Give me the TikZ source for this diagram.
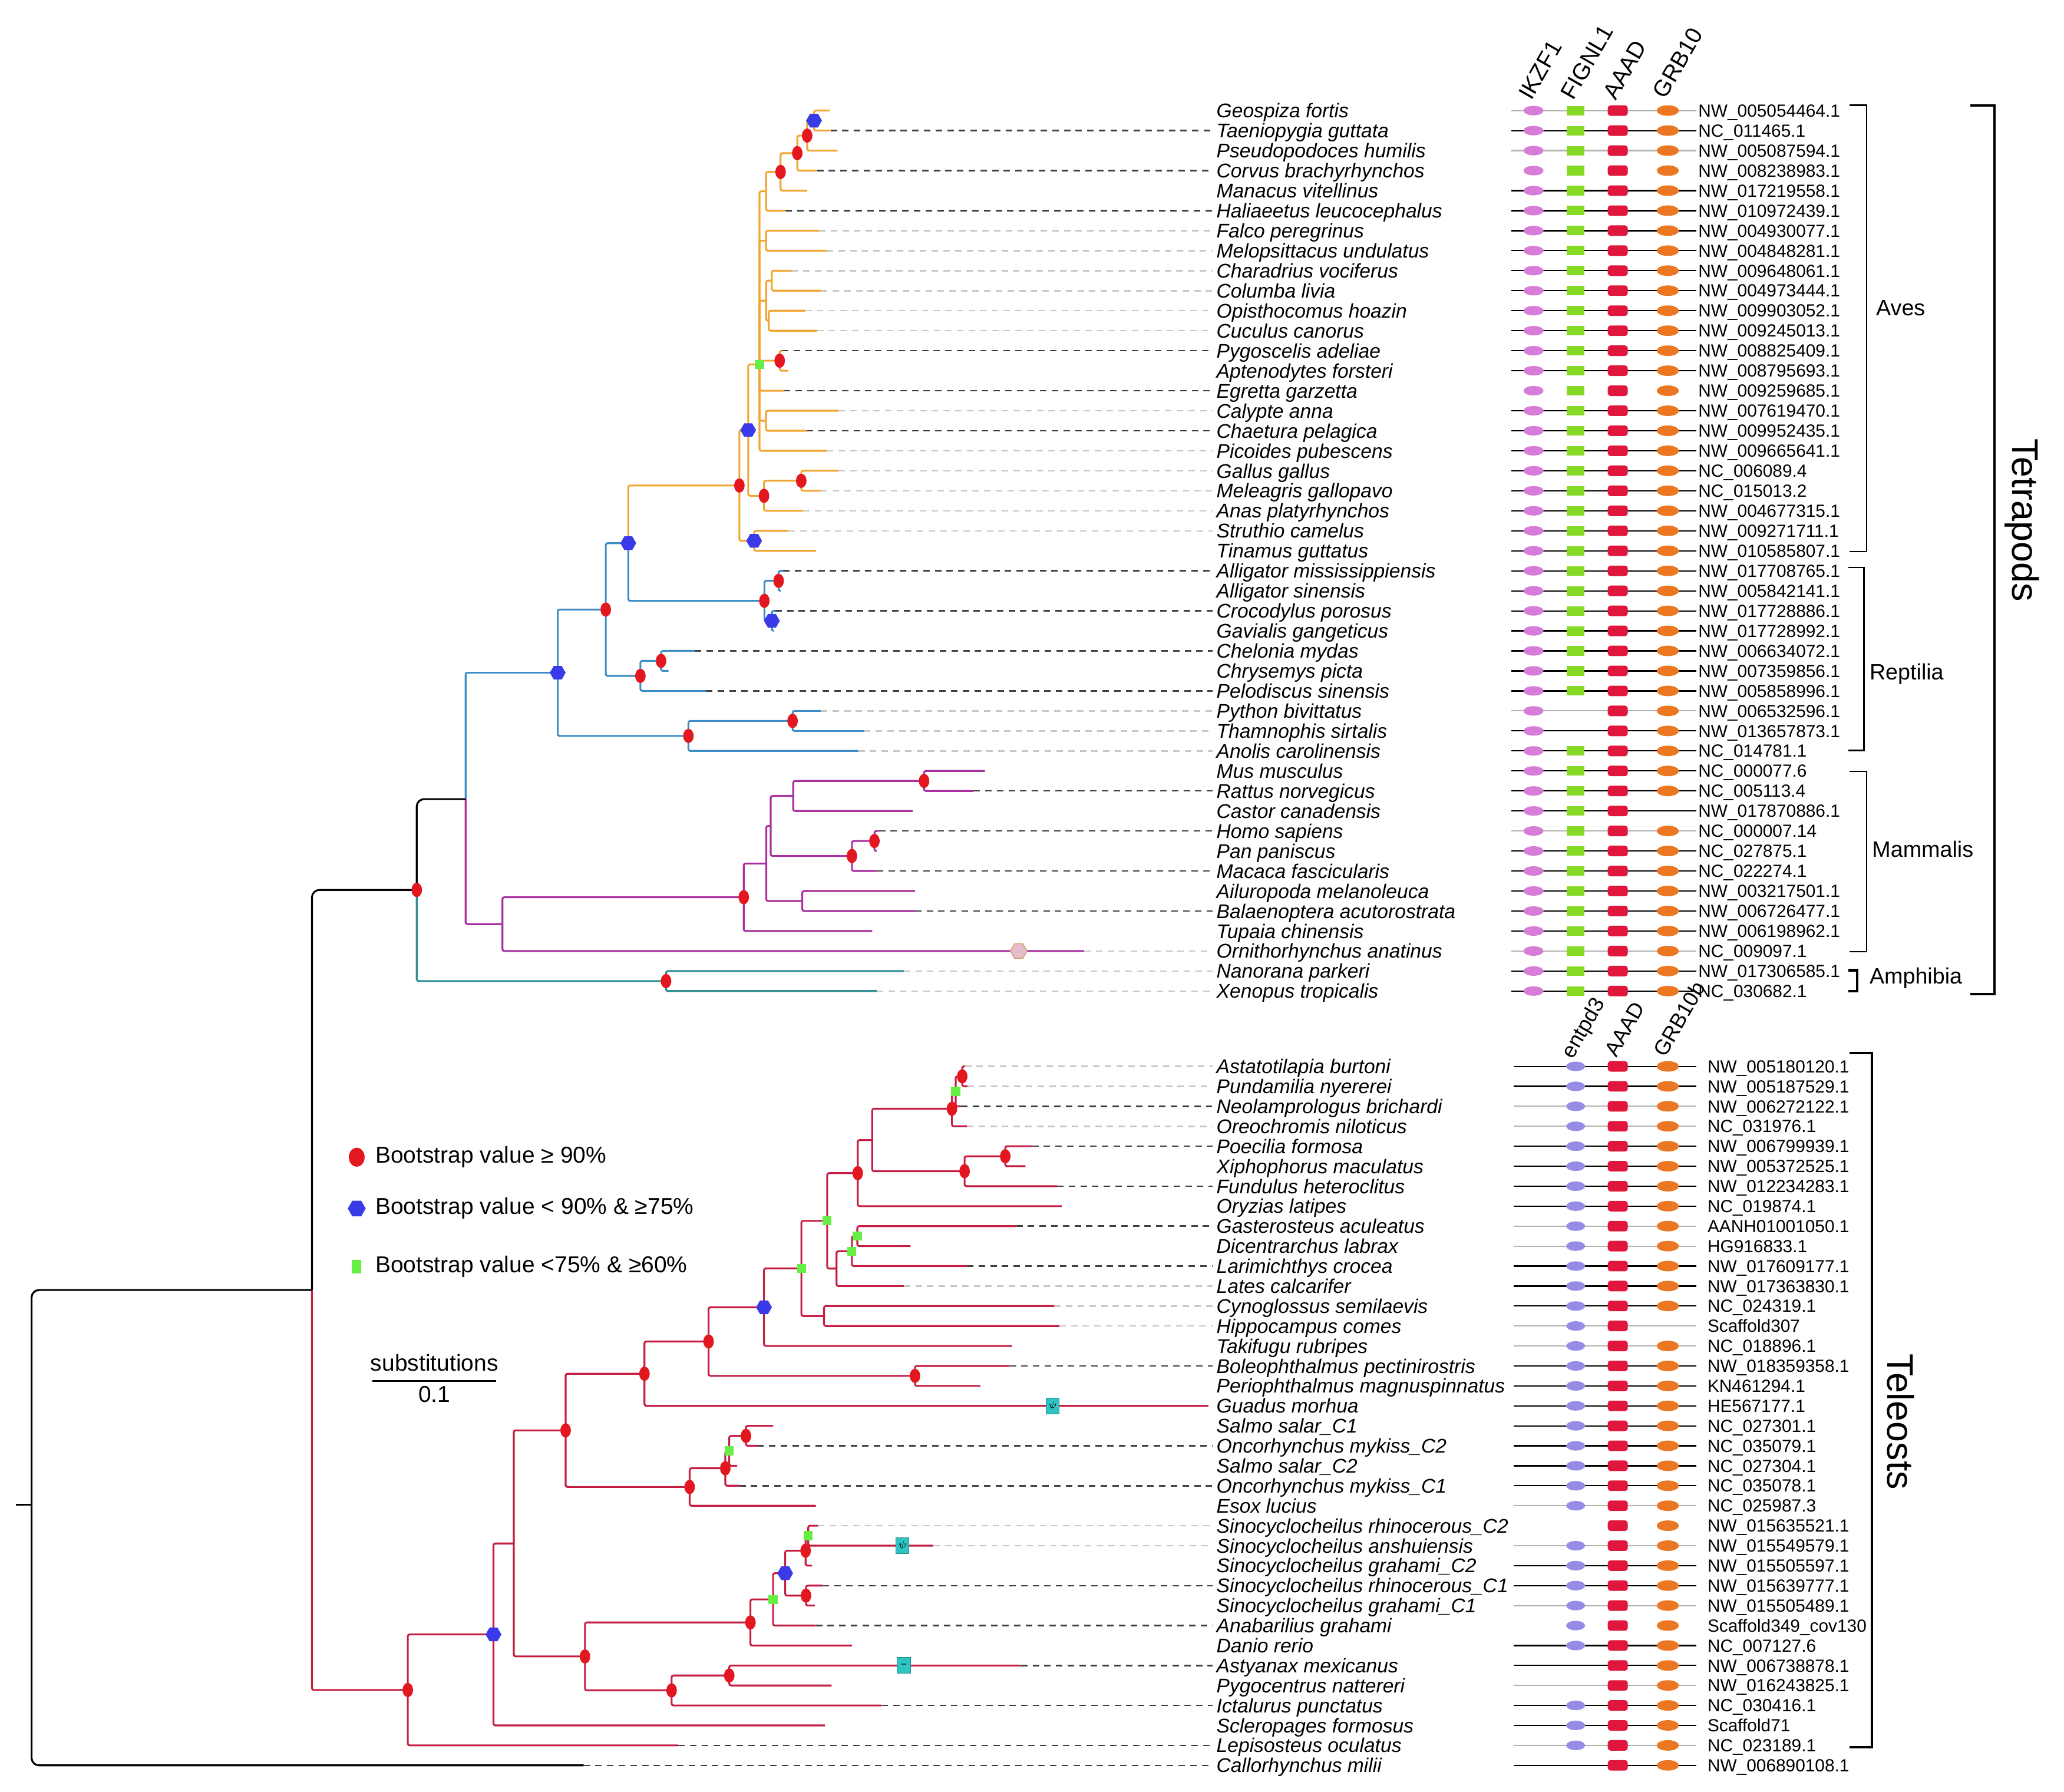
\documentclass[tikz,border=0pt]{standalone}
\usepackage{fontspec}
\setmainfont{Liberation Sans}
\usetikzlibrary{shapes.geometric}
\definecolor{avesor}{HTML}{F2A531}
\definecolor{reptbl}{HTML}{3C8DC4}
\definecolor{mammag}{HTML}{A8309F}
\definecolor{amphtl}{HTML}{2E8E93}
\definecolor{telred}{HTML}{C41F43}
\definecolor{bsr}{HTML}{E3171F}
\definecolor{bsb}{HTML}{3A3AE8}
\definecolor{bsg}{HTML}{66EE44}
\definecolor{ikz}{HTML}{D77CD7}
\definecolor{fig}{HTML}{86D925}
\definecolor{aad}{HTML}{E0163C}
\definecolor{grb}{HTML}{EC7722}
\definecolor{ent}{HTML}{968CE6}
\definecolor{psi}{HTML}{2EC4C4}
\definecolor{orn}{HTML}{E6BCC6}

\begin{document}
\begin{tikzpicture}
    [
    x=0.025cm, y=-0.025cm,
    br/.style={line width=1pt, rounded corners=1pt},
    root/.style={br, black, rounded corners=4pt},
    aves/.style={br, avesor},
    rept/.style={br, reptbl},
    mamm/.style={br, mammag},
    amph/.style={br, amphtl},
    tele/.style={br, telred},
    lead/.style={dash pattern=on 3.5pt off 2.8pt, line width=0.8pt, black!75, shorten >=1pt},
    leadlt/.style={dash pattern=on 3.5pt off 2.8pt, line width=0.8pt, black!22, shorten >=1pt},
    bsred/.style={ellipse, fill=bsr, inner sep=0pt, minimum width=0.2cm, minimum height=0.27cm},
    bsblue/.style={regular polygon, regular polygon sides=6, fill=bsb, inner sep=0pt, minimum size=0.3cm},
    bsgreen/.style={rectangle, fill=bsg, inner sep=0pt, minimum size=0.17cm},
    sp/.style={anchor=west, inner xsep=1pt, inner ysep=0pt, text height=7.7pt, text depth=0pt, font=\fontsize{10.7}{12}\selectfont\itshape},
    acc/.style={anchor=west, inner xsep=1pt, inner ysep=0pt, text height=6.8pt, text depth=0pt, font=\fontsize{9.5}{11}\selectfont},
    gline/.style={line width=0.7pt, black},
    glinelt/.style={line width=0.7pt, black!30},
    ikzf/.style={ellipse, fill=ikz, inner sep=0pt, minimum width=0.38cm, minimum height=0.18cm},
    fignl/.style={rectangle, fill=fig, inner sep=0pt, minimum width=0.33cm, minimum height=0.18cm},
    aaad/.style={rectangle, rounded corners=1.5pt, fill=aad, inner sep=0pt, minimum width=0.38cm, minimum height=0.2cm},
    grbten/.style={ellipse, fill=grb, inner sep=0pt, minimum width=0.42cm, minimum height=0.2cm},
    entpd/.style={ellipse, fill=ent, inner sep=0pt, minimum width=0.36cm, minimum height=0.18cm},
    gene/.style={rotate=60, anchor=west, inner sep=0pt, font=\fontsize{12.5}{14}\selectfont},
    tgene/.style={gene, font=\fontsize{11.5}{13}\selectfont},
    grp/.style={anchor=west, inner sep=0pt, font=\fontsize{12}{14}\selectfont},
    clade/.style={rotate=-90, inner sep=0pt, font=\fontsize{20}{24}\selectfont},
    brk/.style={line width=0.8pt},
    bigbrk/.style={line width=1.3pt},
    lgtext/.style={anchor=west, inner sep=0pt, font=\fontsize{12.4}{14}\selectfont},
    psibox/.style={rectangle, fill=psi, draw=psi!70!black, line width=0.3pt, inner sep=0pt, minimum width=0.25cm, minimum height=0.3cm, font=\fontsize{5}{5}\selectfont},
    ]
    \useasboundingbox (0,0) rectangle (1568,1361);

    % tetrapod rows: tip, leader, accession, gene line, FIGNL1, GRB10
    \foreach \i/\sp/\tx/\ld/\acc/\ln/\fg/\gr in {
      1/Geospiza fortis/630.3/0/NW\_005054464.1/2/1/1,
      2/Taeniopygia guttata/631/1/NC\_011465.1/1/1/1,
      3/Pseudopodoces humilis/636.3/0/NW\_005087594.1/2/1/1,
      4/Corvus brachyrhynchos/620.7/1/NW\_008238983.1/0/1/1,
      5/Manacus vitellinus/613.2/0/NW\_017219558.1/1/1/1,
      6/Haliaeetus leucocephalus/596.8/1/NW\_010972439.1/1/1/1,
      7/Falco peregrinus/622.2/2/NW\_004930077.1/1/1/1,
      8/Melopsittacus undulatus/628/2/NW\_004848281.1/1/1/1,
      9/Charadrius vociferus/601.3/2/NW\_009648061.1/1/1/1,
      10/Columba livia/623.6/2/NW\_004973444.1/1/1/1,
      11/Opisthocomus hoazin/611.7/2/NW\_009903052.1/1/1/1,
      12/Cuculus canorus/620.7/2/NW\_009245013.1/1/1/1,
      13/Pygoscelis adeliae/594/1/NW\_008825409.1/1/1/1,
      14/Aptenodytes forsteri/599/0/NW\_008795693.1/1/1/1,
      15/Egretta garzetta/595.3/1/NW\_009259685.1/0/1/1,
      16/Calypte anna/637/2/NW\_007619470.1/1/1/1,
      17/Chaetura pelagica/613/1/NW\_009952435.1/1/1/1,
      18/Picoides pubescens/628/2/NW\_009665641.1/1/1/1,
      19/Gallus gallus/637/2/NC\_006089.4/1/1/1,
      20/Meleagris gallopavo/623.6/2/NC\_015013.2/1/1/1,
      21/Anas platyrhynchos/610.2/2/NW\_004677315.1/1/1/1,
      22/Struthio camelus/599/2/NW\_009271711.1/1/1/1,
      23/Tinamus guttatus/620/0/NW\_010585807.1/1/1/1,
      24/Alligator mississippiensis/595/1/NW\_017708765.1/1/1/1,
      25/Alligator sinensis/593/0/NW\_005842141.1/1/1/1,
      26/Crocodylus porosus/589/1/NW\_017728886.1/1/1/1,
      27/Gavialis gangeticus/588/0/NW\_017728992.1/1/1/1,
      28/Chelonia mydas/527.9/1/NW\_006634072.1/1/1/1,
      29/Chrysemys picta/507.9/0/NW\_007359856.1/1/1/1,
      30/Pelodiscus sinensis/536.4/1/NW\_005858996.1/1/1/1,
      31/Python bivittatus/623.5/2/NW\_006532596.1/2/0/1,
      32/Thamnophis sirtalis/656.3/2/NW\_013657873.1/1/0/1,
      33/Anolis carolinensis/652/2/NC\_014781.1/1/1/1,
      34/Mus musculus/748.2/0/NC\_000077.6/1/1/1,
      35/Rattus norvegicus/739.6/1/NC\_005113.4/1/1/1,
      36/Castor canadensis/693.4/0/NW\_017870886.1/1/1/0,
      37/Homo sapiens/667.7/1/NC\_000007.14/2/1/1,
      38/Pan paniscus/666/0/NC\_027875.1/1/1/1,
      39/Macaca fascicularis/666/1/NC\_022274.1/1/1/1,
      40/Ailuropoda melanoleuca/695.1/0/NW\_003217501.1/1/1/1,
      41/Balaenoptera acutorostrata/695.1/1/NW\_006726477.1/1/1/1,
      42/Tupaia chinensis/662.6/0/NW\_006198962.1/1/1/1,
      43/Ornithorhynchus anatinus/823.6/2/NC\_009097.1/2/1/1,
      44/Nanorana parkeri/686.6/2/NW\_017306585.1/1/1/1,
      45/Xenopus tropicalis/666/2/NC\_030682.1/1/1/1}
    {
      \pgfmathsetmacro\yy{84+(\i-1)*15.2}
      \coordinate (s\i) at (\tx,\yy);
      \node[sp] (lab\i) at (922.5,\yy) {\sp};
      \ifnum\ld=1\relax \draw[lead] (s\i) -- (lab\i.west); \fi
      \ifnum\ld=2\relax \draw[leadlt] (s\i) -- (lab\i.west); \fi
      \coordinate (g\i) at (1148,\yy);
      \node[acc] (acc\i) at (1288.5,\yy) {\acc};
      \ifnum\ln=1\relax \draw[gline] (g\i) -- (acc\i.west); \fi
      \ifnum\ln=2\relax \draw[glinelt] (g\i) -- (acc\i.west); \fi
      \node[ikzf] (ik\i) at (1165,\yy) {};
      \ifnum\fg=1\relax \node[fignl] (fi\i) at (1197,\yy) {}; \fi
      \node[aaad] (aa\i) at (1229,\yy) {};
      \ifnum\gr=1\relax \node[grbten] (gr\i) at (1267,\yy) {}; \fi
    }

    % teleost rows: tip, leader, accession, gene line, entpd3, GRB10b
    \foreach \i/\sp/\tx/\ld/\acc/\ln/\en/\gr in {
      1/Astatotilapia burtoni/733/2/NW\_005180120.1/1/1/1,
      2/Pundamilia nyererei/735/2/NW\_005187529.1/1/1/1,
      3/Neolamprologus brichardi/730/1/NW\_006272122.1/2/1/1,
      4/Oreochromis niloticus/734.5/2/NC\_031976.1/2/1/1,
      5/Poecilia formosa/784/1/NW\_006799939.1/1/1/1,
      6/Xiphophorus maculatus/779/0/NW\_005372525.1/1/1/1,
      7/Fundulus heteroclitus/803/1/NW\_012234283.1/1/1/1,
      8/Oryzias latipes/806.5/0/NC\_019874.1/1/1/1,
      9/Gasterosteus aculeatus/772/1/AANH01001050.1/2/1/1,
      10/Dicentrarchus labrax/691.7/0/HG916833.1/2/1/1,
      11/Larimichthys crocea/734.5/1/NW\_017609177.1/1/1/1,
      12/Lates calcarifer/686.6/2/NW\_017363830.1/1/1/1,
      13/Cynoglossus semilaevis/801/2/NC\_024319.1/1/1/1,
      14/Hippocampus comes/804.7/2/Scaffold307/2/1/0,
      15/Takifugu rubripes/768.8/0/NC\_018896.1/2/1/1,
      16/Boleophthalmus pectinirostris/767/1/NW\_018359358.1/1/1/1,
      17/Periophthalmus magnuspinnatus/744.8/0/KN461294.1/1/1/1,
      18/Guadus morhua/918/0/HE567177.1/1/1/1,
      19/Salmo salar\_C1/587.3/0/NC\_027301.1/1/1/1,
      20/Oncorhynchus mykiss\_C2/575.3/1/NC\_035079.1/1/1/1,
      21/Salmo salar\_C2/560/0/NC\_027304.1/1/1/1,
      22/Oncorhynchus mykiss\_C1/561.6/1/NC\_035078.1/1/1/1,
      23/Esox lucius/619.8/0/NC\_025987.3/2/1/1,
      24/Sinocyclocheilus rhinocerous\_C2/621.5/2/NW\_015635521.1/0/0/1,
      25/Sinocyclocheilus anshuiensis/708.9/2/NW\_015549579.1/2/1/1,
      26/Sinocyclocheilus grahami\_C2/617/0/NW\_015505597.1/1/1/1,
      27/Sinocyclocheilus rhinocerous\_C1/625/1/NW\_015639777.1/1/1/1,
      28/Sinocyclocheilus grahami\_C1/619/0/NW\_015505489.1/2/1/1,
      29/Anabarilius grahami/619.8/1/Scaffold349\_cov130/0/1/1,
      30/Danio rerio/647.2/0/NC\_007127.6/1/1/1,
      31/Astyanax mexicanus/775.6/1/NW\_006738878.1/1/0/1,
      32/Pygocentrus nattereri/631.8/0/NW\_016243825.1/2/0/1,
      33/Ictalurus punctatus/669.5/1/NC\_030416.1/1/1/1,
      34/Scleropages formosus/626.6/0/Scaffold71/1/1/1,
      35/Lepisosteus oculatus/515.3/1/NC\_023189.1/2/1/1,
      36/Callorhynchus milii/443.4/1/NW\_006890108.1/1/0/1}
    {
      \pgfmathsetmacro\yy{810+(\i-1)*15.17}
      \coordinate (u\i) at (\tx,\yy);
      \node[sp] (tlab\i) at (922.5,\yy) {\sp};
      \ifnum\ld=1\relax \draw[lead] (u\i) -- (tlab\i.west); \fi
      \ifnum\ld=2\relax \draw[leadlt] (u\i) -- (tlab\i.west); \fi
      \coordinate (tg\i) at (1150,\yy);
      \node[acc] (tacc\i) at (1295.5,\yy) {\acc};
      \ifnum\ln=1\relax \draw[gline] (tg\i) -- ([xshift=-5pt]tacc\i.west); \fi
      \ifnum\ln=2\relax \draw[glinelt] (tg\i) -- ([xshift=-5pt]tacc\i.west); \fi
      \ifnum\en=1\relax \node[entpd] (en\i) at (1197,\yy) {}; \fi
      \node[aaad] (taa\i) at (1229,\yy) {};
      \ifnum\gr=1\relax \node[grbten] (tgr\i) at (1267,\yy) {}; \fi
    }

    % gene headers
    \node[gene] (hik) at (1158,74) {IKZF1};
    \node[gene] (hfi) at (1190,74) {FIGNL1};
    \node[gene] (haa) at (1222,74) {AAAD};
    \node[gene] (hgr) at (1260,73) {GRB10};
    \node[tgene] (hen) at (1191,803) {entpd3};
    \node[tgene] (htaa) at (1223,801) {AAAD};
    \node[tgene] (htgr) at (1260,801) {GRB10b};

    % internal nodes, tetrapods
    \coordinate (a1) at (618.4,91.6);
    \coordinate (a2) at (613.2,103.0);
    \coordinate (a3) at (605.7,116.3);
    \coordinate (a4) at (593.0,130.6);
    \coordinate (a5) at (581.9,145.3);
    \coordinate (a6) at (581.9,182.8);
    \coordinate (a7a) at (586.3,213.2);
    \coordinate (a7b) at (584.0,243.6);
    \coordinate (a7) at (582.0,228.4);
    \coordinate (a8) at (592.3,274.0);
    \coordinate (a9) at (581.9,319.6);
    \coordinate (a0) at (577.0,276.8);
    \coordinate (a10) at (608.7,365.2);
    \coordinate (a11) at (580.4,376.6);
    \coordinate (a12) at (568.4,326.7);
    \coordinate (a13) at (572.9,410.8);
    \coordinate (a14) at (561.7,368.8);
    \coordinate (r1) at (591.5,441.2);
    \coordinate (r2) at (586.4,471.6);
    \coordinate (r3) at (580.7,456.4);
    \coordinate (r4) at (477.3,412.6);
    \coordinate (r5) at (502.2,502.0);
    \coordinate (r6) at (486.5,513.4);
    \coordinate (r7) at (460.2,463.0);
    \coordinate (r8) at (602.1,547.6);
    \coordinate (r9) at (523.0,559.0);
    \coordinate (r10) at (423.7,511.0);
    \coordinate (am) at (353.7,607.0);
    \coordinate (m1) at (702.0,593.2);
    \coordinate (m2) at (602.6,604.6);
    \coordinate (m3) at (664.3,638.8);
    \coordinate (m4) at (647.2,650.2);
    \coordinate (m5) at (585.5,627.4);
    \coordinate (m6) at (609.5,684.4);
    \coordinate (m7) at (582.1,655.9);
    \coordinate (m8) at (565.0,681.5);
    \coordinate (m9) at (381.7,702.0);
    \coordinate (p1) at (506.0,745.2);
    \coordinate (t0) at (316.6,676.0);
    \coordinate (v0) at (237.0,979.9);
    \coordinate (rt) at (24.0,1143.0);
    \coordinate (rt0) at (12.0,1143.0);

    % internal nodes, teleosts
    \coordinate (f1) at (731.0,817.6);
    \coordinate (f2) at (726.0,829.0);
    \coordinate (f3) at (723.2,842.2);
    \coordinate (f4) at (763.7,878.3);
    \coordinate (f5) at (732.8,889.6);
    \coordinate (f6) at (662.6,866.0);
    \coordinate (f7) at (651.6,891.1);
    \coordinate (f8) at (651.3,939.0);
    \coordinate (f9) at (647.2,950.4);
    \coordinate (f10) at (635.5,963.6);
    \coordinate (f11) at (628.4,927.4);
    \coordinate (f12) at (626.0,999.6);
    \coordinate (f13) at (608.8,963.5);
    \coordinate (f14) at (580.4,993.0);
    \coordinate (f15) at (695.1,1045.1);
    \coordinate (f16) at (538.3,1019.0);
    \coordinate (f17) at (489.6,1043.5);
    \coordinate (f18) at (566.7,1090.7);
    \coordinate (f19) at (554.0,1102.0);
    \coordinate (f20) at (551.0,1115.3);
    \coordinate (f21) at (523.9,1129.5);
    \coordinate (f22) at (429.7,1086.5);
    \coordinate (f23) at (614.0,1166.5);
    \coordinate (f24) at (612.0,1177.9);
    \coordinate (f25) at (612.3,1212.0);
    \coordinate (f26) at (596.5,1195.0);
    \coordinate (f27) at (587.3,1214.9);
    \coordinate (f28) at (570.1,1232.4);
    \coordinate (f29) at (554.0,1272.7);
    \coordinate (f30) at (510.2,1284.0);
    \coordinate (f31) at (444.4,1258.2);
    \coordinate (f32) at (390.3,1172.4);
    \coordinate (f33) at (374.9,1241.5);
    \coordinate (f34) at (309.8,1283.7);

    % birds
    \draw[aves] (s1) -| (a1) |- (s2);
    \draw[aves] (a1) -| (a2) |- (s3);
    \draw[aves] (a2) -| (a3) |- (s4);
    \draw[aves] (a3) -| (a4) |- (s5);
    \draw[aves] (a4) -| (a5) |- (s6);
    \draw[aves] (s7) -| (a6) |- (s8);
    \draw[aves] (s9) -| (a7a) |- (s10);
    \draw[aves] (s11) -| (a7b) |- (s12);
    \draw[aves] (a7a) -| (a7) |- (a7b);
    \draw[aves] (s13) -| (a8) |- (s14);
    \draw[aves] (s16) -| (a9) |- (s17);
    \draw[aves] (a5) -| (a0) |- (s18);
    \foreach \c in {a6,a7,a8,s15,a9}
      \draw[aves] (a0) |- (\c);
    \draw[aves] (s19) -| (a10) |- (s20);
    \draw[aves] (a10) -| (a11) |- (s21);
    \draw[aves] (a0) -| (a12) |- (a11);
    \draw[aves] (s22) -| (a13) |- (s23);
    \draw[aves] (a12) -| (a14) |- (a13);
    \draw[aves] (r4) |- (a14);

    % reptiles
    \draw[rept] (s24) -| (r1) |- (s25);
    \draw[rept] (s26) -| (r2) |- (s27);
    \draw[rept] (r1) -| (r3) |- (r2);
    \draw[rept] (r4) |- (r3);
    \draw[rept] (s28) -| (r5) |- (s29);
    \draw[rept] (r5) -| (r6) |- (s30);
    \draw[rept] (r4) -| (r7) |- (r6);
    \draw[rept] (s31) -| (r8) |- (s32);
    \draw[rept] (r8) -| (r9) |- (s33);
    \draw[rept] (r7) -| (r10) |- (r9);
    \draw[rept] (am) |- (r10);

    % mammals
    \draw[mamm] (s34) -| (m1) |- (s35);
    \draw[mamm] (m1) -| (m2) |- (s36);
    \draw[mamm] (s37) -| (m3) |- (s38);
    \draw[mamm] (m3) -| (m4) |- (s39);
    \draw[mamm] (m2) -| (m5) |- (m4);
    \draw[mamm] (s40) -| (m6) |- (s41);
    \draw[mamm] (m5) -| (m7) |- (m6);
    \draw[mamm] (m7) -| (m8) |- (s42);
    \draw[mamm] (m8) -| (m9) |- (s43);
    \draw[mamm] (am) |- (m9);

    % amphibians and root
    \draw[amph] (s44) -| (p1) |- (s45);
    \draw[amph] (t0) |- (p1);
    \draw[root] (am) -| (t0);
    \draw[root] (t0) -| (v0);
    \draw[tele] (v0) |- (f34);
    \draw[root] (v0) -| (rt) |- (u36);
    \draw[root] (rt0) -- (rt);

    % teleosts
    \draw[tele] (u1) -| (f1) |- (u2);
    \draw[tele] (f1) -| (f2) |- (u3);
    \draw[tele] (f2) -| (f3) |- (u4);
    \draw[tele] (u5) -| (f4) |- (u6);
    \draw[tele] (f4) -| (f5) |- (u7);
    \draw[tele] (f3) -| (f6) |- (f5);
    \draw[tele] (f6) -| (f7) |- (u8);
    \draw[tele] (u9) -| (f8) |- (u10);
    \draw[tele] (f8) -| (f9) |- (u11);
    \draw[tele] (f9) -| (f10) |- (u12);
    \draw[tele] (f7) -| (f11) |- (f10);
    \draw[tele] (u13) -| (f12) |- (u14);
    \draw[tele] (f11) -| (f13) |- (f12);
    \draw[tele] (f13) -| (f14) |- (u15);
    \draw[tele] (u16) -| (f15) |- (u17);
    \draw[tele] (f14) -| (f16) |- (f15);
    \draw[tele] (f16) -| (f17) |- (u18);
    \draw[tele] (u19) -| (f18) |- (u20);
    \draw[tele] (f18) -| (f19) |- (u21);
    \draw[tele] (f19) -| (f20) |- (u22);
    \draw[tele] (f20) -| (f21) |- (u23);
    \draw[tele] (f17) -| (f22) |- (f21);
    \draw[tele] (u24) -| (f23) |- (u25);
    \draw[tele] (f23) -| (f24) |- (u26);
    \draw[tele] (u27) -| (f25) |- (u28);
    \draw[tele] (f24) -| (f26) |- (f25);
    \draw[tele] (f26) -| (f27) |- (u29);
    \draw[tele] (f27) -| (f28) |- (u30);
    \draw[tele] (u31) -| (f29) |- (u32);
    \draw[tele] (f29) -| (f30) |- (u33);
    \draw[tele] (f28) -| (f31) |- (f30);
    \draw[tele] (f22) -| (f32) |- (f31);
    \draw[tele] (f32) -| (f33) |- (u34);
    \draw[tele] (f33) -| (f34) |- (u35);

    % bootstrap marks
    \foreach \n in {a2,a3,a4,a8,a10,a11,a14,r1,r3,r5,r6,r7,r8,r9,m1,m3,m4,m8,p1,t0,
        f1,f3,f4,f5,f7,f15,f16,f17,f18,f20,f21,f22,f24,f25,f28,f29,f30,f31,f34}
      \node[bsred] (dot-\n) at (\n) {};
    \foreach \n in {a1,a12,a13,r2,r4,r10,f14,f26,f33}
      \node[bsblue] (dot-\n) at (\n) {};
    \foreach \n in {a0,f2,f8,f9,f11,f13,f19,f23,f27}
      \node[bsgreen] (dot-\n) at (\n) {};

    \node[regular polygon, regular polygon sides=6, fill=orn, draw=brown!80, line width=0.4pt,
      inner sep=0pt, minimum size=0.32cm] (ornhex) at (773.9,722.4) {};
    \node[psibox] (psi1) at (799.6,1067.9) {$\psi$};
    \node[psibox] (psi2) at (685.6,1174.1) {$\psi$};
    \node[psibox] (psi3) at (686.6,1265.1) {--};

    % brackets and clade names
    \draw[brk] (1405,80) -| (1418,419) -- (1405,419);
    \node[grp] (aves) at (1425,234) {Aves};
    \draw[brk] (1404,431) -| (1416,570) -- (1404,570);
    \node[grp] (rept) at (1420,512) {Reptilia};
    \draw[brk] (1405,586) -| (1418,723) -- (1405,723);
    \node[grp] (mamm) at (1422,645) {Mammalis};
    \draw[bigbrk] (1404,737) -| (1411,753) -- (1404,753);
    \node[grp] (amph) at (1420,743) {Amphibia};
    \draw[bigbrk] (1497,80) -| (1515,755) -- (1497,755);
    \node[clade] (tetra) at (1536,395) {Tetrapods};
    \draw[bigbrk] (1405,800) -| (1422,1327) -- (1405,1327);
    \node[clade] (teleo) at (1444,1080) {Teleosts};

    % legend and scale
    \node[bsred, minimum width=0.3cm, minimum height=0.36cm] (lg1) at (271,879) {};
    \node[lgtext] (lt1) at (285,879) {Bootstrap value ≥ 90\%};
    \node[bsblue, minimum size=0.34cm] (lg2) at (271,918) {};
    \node[lgtext] (lt2) at (285,918) {Bootstrap value < 90\% \& ≥75\%};
    \node[bsgreen, minimum width=0.18cm, minimum height=0.26cm] (lg3) at (271,962) {};
    \node[lgtext] (lt3) at (285,962) {Bootstrap value <75\% \& ≥60\%};
    \node[font=\fontsize{12.4}{14}\selectfont, inner sep=0pt] (subs) at (330,1035) {substitutions};
    \draw[line width=0.9pt] (283,1049) -- (377,1049);
    \node[font=\fontsize{12.4}{14}\selectfont, inner sep=0pt] (bar) at (330,1059) {0.1};
  \end{tikzpicture}
\end{document}
